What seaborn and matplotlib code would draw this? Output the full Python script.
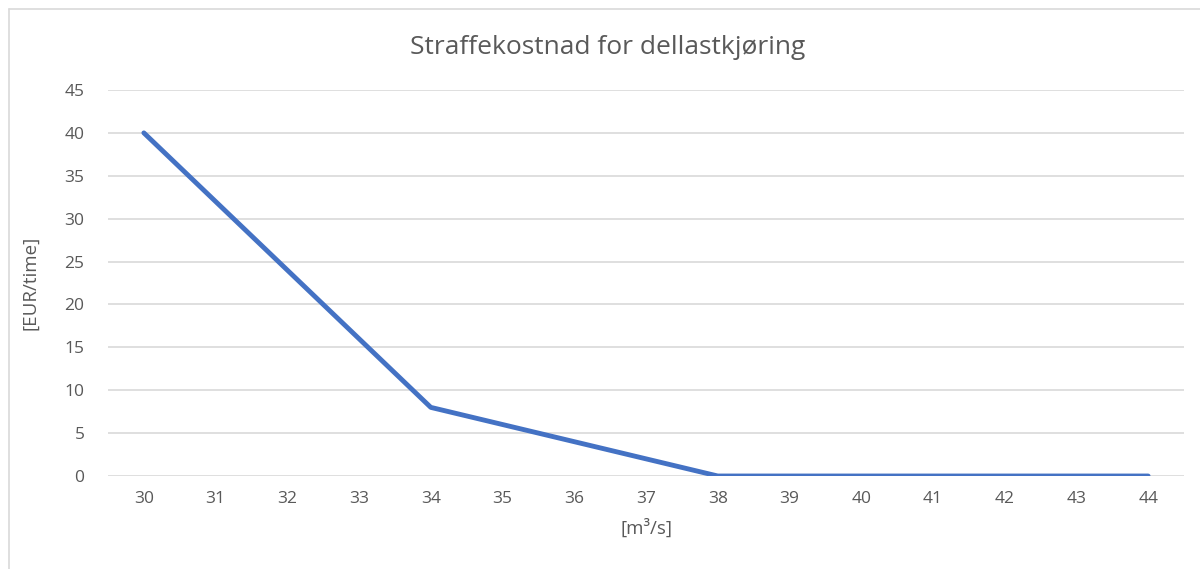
import matplotlib
matplotlib.use("Agg")
import matplotlib.pyplot as plt
from matplotlib.lines import Line2D
import seaborn as sns
import pandas as pd

# Flow categories [m3/s] and penalty cost [EUR/time]
flow = [30, 31, 32, 33, 34, 35, 36, 37, 38, 39, 40, 41, 42, 43, 44]
cost = [40, 32, 24, 16, 8, 6, 4, 2, 0, 0, 0, 0, 0, 0, 0]
y_ticks = [0, 5, 10, 15, 20, 25, 30, 35, 40, 45]

title = "Straffekostnad for dellastkjøring"
x_label = "[m³/s]"
y_label = "[EUR/time]"

sns.set_theme(style="white")
plt.rcParams["font.family"] = ["Open Sans", "DejaVu Sans"]

text_color = "#595959"
grid_color = "#d9d9d9"
line_color = "#4472C4"

df = pd.DataFrame({"flow": flow, "cost": cost})

W, H = 1200, 569
fig = plt.figure(figsize=(W / 100, H / 100), dpi=100)
fig.patch.set_facecolor("white")

left, right = 108 / W, 1184 / W
bottom, top = 1 - 476 / H, 1 - 90 / H
ax = fig.add_axes([left, bottom, right - left, top - bottom])

sns.lineplot(data=df, x="flow", y="cost", ax=ax, color=line_color,
             linewidth=3.5, solid_capstyle="round", zorder=3)

ax.set_xlim(flow[0] - 0.5, flow[-1] + 0.5)
ax.set_ylim(0, 45)
ax.set_yticks(y_ticks)
ax.set_xticks(flow)
ax.set_xticklabels([str(v) for v in flow])
ax.yaxis.grid(True, color=grid_color, linewidth=1.2)
ax.xaxis.grid(False)
for s in ax.spines.values():
    s.set_visible(False)
ax.tick_params(axis="both", length=0, labelsize=12.5, labelcolor=text_color)
ax.tick_params(axis="x", pad=11)
ax.tick_params(axis="y", pad=17)

ax.set_xlabel(x_label, fontsize=13.5, color=text_color, labelpad=8)
ax.set_ylabel(y_label, fontsize=13.5, color=text_color, labelpad=18)

fig.text(608 / W, 1 - 47 / H, title, ha="center", va="center",
         fontsize=19, color=text_color)

# chart area frame
fx, fy = 8.5 / W, 1 - 8.5 / H
fig.add_artist(Line2D([fx, fx], [0, fy], transform=fig.transFigure,
                      color=grid_color, linewidth=1.2))
fig.add_artist(Line2D([fx, 1], [fy, fy], transform=fig.transFigure,
                      color=grid_color, linewidth=1.2))

fig.savefig("out.png", dpi=100)
